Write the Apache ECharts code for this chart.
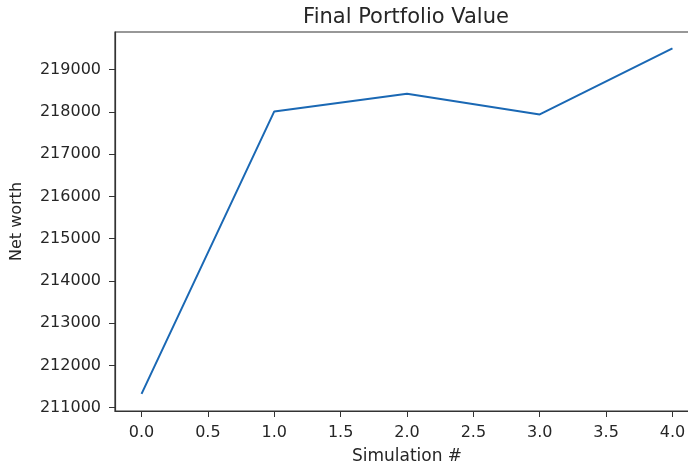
<!DOCTYPE html>
<html>
<head>
<meta charset="utf-8">
<script src="https://cdn.jsdelivr.net/npm/echarts@6/dist/echarts.min.js"></script>
<style>
  html, body { margin: 0; padding: 0; background: #fff; }
  #chart { width: 688px; height: 466px; }
</style>
</head>
<body>
<div id="chart"></div>
<script>
// 数据
const simulations = [0, 1, 2, 3, 4]
const netWorth = [211325, 218010, 218430, 217940, 219500]
const xTicks = [0, 0.5, 1, 1.5, 2, 2.5, 3, 3.5, 4]
const yTicks = [211000, 212000, 213000, 214000, 215000, 216000, 217000, 218000, 219000]

const textColor = '#262626'
const font = 'DejaVu Sans'

const chart = echarts.init(document.getElementById('chart'))
chart.setOption({
  animation: false,
  title: {
    text: 'Final Portfolio Value',
    left: 401,
    textAlign: 'center',
    top: 2,
    textStyle: { fontFamily: font, fontSize: 21, fontWeight: 'normal', color: textColor }
  },
  grid: {
    left: 115, top: 32, width: 584, bottom: 55,
    outerBoundsMode: 'none',
    show: true, borderColor: '#333', borderWidth: 1.2
  },
  xAxis: {
    type: 'value',
    min: -0.2,
    max: 4.2,
    name: 'Simulation #',
    nameLocation: 'middle',
    nameGap: 37,
    nameTextStyle: { fontFamily: font, fontSize: 17, color: textColor },
    splitLine: { show: false },
    axisLine: { onZero: false, lineStyle: { color: '#333', width: 1.2 } },
    axisTick: { show: true, length: 6, customValues: xTicks, lineStyle: { color: '#333' } },
    axisLabel: {
      customValues: xTicks,
      fontFamily: font, fontSize: 16, color: textColor, margin: 14,
      formatter: v => v.toFixed(1)
    }
  },
  yAxis: {
    type: 'value',
    min: 210920,
    max: 219890,
    name: 'Net worth',
    nameLocation: 'middle',
    nameGap: 90,
    nameRotate: 90,
    nameTextStyle: { fontFamily: font, fontSize: 16, color: textColor },
    splitLine: { show: false },
    axisLine: { show: true, onZero: false, lineStyle: { color: '#333', width: 1.2 } },
    axisTick: { show: true, length: 6, customValues: yTicks, lineStyle: { color: '#333' } },
    axisLabel: {
      customValues: yTicks,
      fontFamily: font, fontSize: 16, color: textColor, margin: 14,
      formatter: v => String(v)
    }
  },
  series: [{
    type: 'line',
    data: simulations.map((s, i) => [s, netWorth[i]]),
    symbol: 'none',
    lineStyle: { color: '#1a68b4', width: 2 }
  }]
})
</script>
</body>
</html>
